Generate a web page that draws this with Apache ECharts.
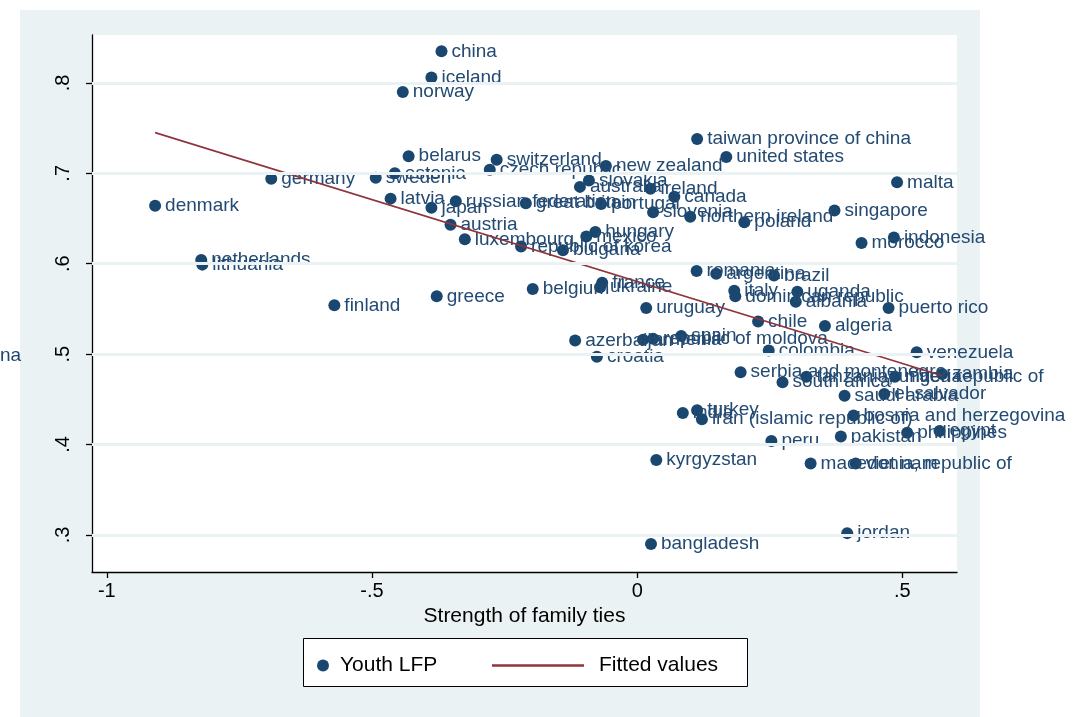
<!DOCTYPE html>
<html>
<head>
<meta charset="utf-8">
<script src="https://cdn.jsdelivr.net/npm/echarts@6/dist/echarts.min.js"></script>
<style>
html,body{margin:0;padding:0;background:#ffffff;}
#chart{width:1087px;height:717px;}
</style>
</head>
<body>
<div id="chart"></div>
<script>
// ---- data ----
const countries = [
 "china","iceland","norway","taiwan province of china","belarus","switzerland","united states","new zealand",
 "czech republic","estonia","sweden","germany","malta","slovakia","australia","ireland","canada","latvia",
 "russian federation","great britain","portugal","denmark","japan","singapore","slovenia","northern ireland",
 "poland","austria","hungary","mexico","indonesia","luxembourg","morocco","republic of korea","bulgaria",
 "netherlands","lithuania","romania","argentina","brazil","france","ukraine","belgium","italy","uganda",
 "dominican republic","greece","albania","finland","uruguay","puerto rico","chile","algeria","spain",
 "republic of moldova","armenia","azerbaijan","colombia","venezuela","croatia","serbia and montenegro",
 "zambia","tanzania, united republic of","nigeria","south africa","el salvador","saudi arabia","turkey",
 "india","bosnia and herzegovina","iran (islamic republic of)","egypt","philippines","pakistan","peru",
 "kyrgyzstan","macedonia, republic of","viet nam","jordan","bangladesh"
];
const familyTies = [
 -0.369,-0.388,-0.442,0.113,-0.431,-0.265,0.168,-0.059,
 -0.278,-0.457,-0.493,-0.690,0.490,-0.091,-0.108,0.025,0.070,-0.465,
 -0.342,-0.210,-0.068,-0.909,-0.388,0.372,0.030,0.100,
 0.202,-0.352,-0.079,-0.096,0.484,-0.325,0.423,-0.219,-0.140,
 -0.822,-0.820,0.112,0.149,0.258,-0.066,-0.070,-0.197,0.183,0.302,
 0.185,-0.378,0.299,-0.571,0.017,0.474,0.228,0.354,0.083,
 0.030,0.011,-0.117,0.248,0.527,-0.076,0.195,
 0.575,0.319,0.486,0.274,0.466,0.391,0.113,
 0.086,0.408,0.122,0.570,0.509,0.384,0.253,
 0.036,0.327,0.412,0.396,0.026
];
const youthLFP = [
 0.835,0.806,0.790,0.738,0.719,0.715,0.718,0.708,
 0.704,0.700,0.695,0.694,0.690,0.692,0.685,0.683,0.674,0.672,
 0.669,0.667,0.666,0.664,0.662,0.659,0.657,0.652,
 0.646,0.643,0.635,0.630,0.629,0.627,0.623,0.619,0.615,
 0.604,0.599,0.592,0.589,0.587,0.579,0.574,0.572,0.570,0.569,
 0.564,0.564,0.558,0.554,0.551,0.551,0.536,0.531,0.520,
 0.517,0.516,0.515,0.504,0.502,0.497,0.480,
 0.478,0.475,0.475,0.469,0.456,0.454,0.438,
 0.435,0.432,0.428,0.415,0.413,0.409,0.404,
 0.383,0.379,0.379,0.302,0.290
];
const fitX = [-0.909, 0.575];
const fitY = [0.745, 0.476];
const xTicks = [-1, -0.5, 0, 0.5];
const yTicks = [0.3, 0.4, 0.5, 0.6, 0.7, 0.8];

// ---- build ----
const scatterData = countries.map((c, i) => [familyTies[i], youthLFP[i], c]);
const fitData = fitX.map((x, i) => [x, fitY[i]]);
const stataFmt = v => {
  let s = String(Math.round(v * 100) / 100);
  return s.replace(/^0\./, '.').replace(/^-0\./, '-.');
};
const FONT = 'Liberation Sans, Arial, Helvetica, sans-serif';
const BG = '#eaf2f3';

const chart = echarts.init(document.getElementById('chart'), null, {renderer: 'canvas'});
chart.setOption({
  backgroundColor: '#ffffff',
  animation: false,
  textStyle: {fontFamily: FONT},
  graphic: [
    {type: 'rect', z: -10, shape: {x: 20, y: 10, width: 960, height: 707}, style: {fill: BG}},
    {type: 'text', z: 5, left: 0, top: 346, style: {text: 'na', fill: '#1a476f', font: '19px ' + FONT}},
    {type: 'rect', z: 1, shape: {x: 303.5, y: 638.5, width: 444, height: 48}, style: {fill: '#ffffff', stroke: '#000000', lineWidth: 1}}
  ],
  grid: {left: 92, right: 130, top: 35, bottom: 145, show: true, backgroundColor: '#ffffff', borderWidth: 0},
  xAxis: {
    type: 'value', min: -1.028, max: 0.603,
    name: 'Strength of family ties', nameLocation: 'middle', nameGap: 33,
    nameTextStyle: {fontSize: 21, color: '#000', fontFamily: FONT},
    axisLine: {show: true, onZero: false, lineStyle: {color: '#000', width: 1.3}},
    axisTick: {show: true, length: 6, customValues: xTicks, lineStyle: {color: '#000', width: 1.3}},
    axisLabel: {customValues: xTicks, formatter: stataFmt, fontSize: 20, color: '#000', margin: 9, fontFamily: FONT},
    splitLine: {show: false}
  },
  yAxis: {
    type: 'value', min: 0.259, max: 0.853,
    axisLine: {show: true, onZero: false, lineStyle: {color: '#000', width: 1.3}},
    axisTick: {show: true, length: 6, customValues: yTicks, lineStyle: {color: '#000', width: 1.3}},
    axisLabel: {customValues: yTicks, formatter: stataFmt, fontSize: 20, color: '#000', rotate: 90, margin: 19, fontFamily: FONT},
    splitLine: {show: false}
  },
  legend: [
    {data: ['Youth LFP'], left: 312, top: 650, itemWidth: 12, itemHeight: 12, icon: 'circle', z: 5,
     itemStyle: {opacity: 1},
     textStyle: {fontSize: 21, color: '#000', fontFamily: FONT, padding: [0, 0, 0, 6]}},
    {data: ['Fitted values'], left: 487, top: 650, itemWidth: 92, itemHeight: 2.5, icon: 'rect', z: 5,
     textStyle: {fontSize: 21, color: '#000', fontFamily: FONT, padding: [0, 0, 0, 10]}}
  ],
  series: [
    {
      name: 'grid', type: 'line', data: [], z: 1, silent: true,
      markLine: {
        silent: true, symbol: 'none', label: {show: false},
        lineStyle: {color: BG, width: 3, type: 'solid'},
        data: yTicks.map(v => ({yAxis: v}))
      }
    },
    {
      name: 'Youth LFP', type: 'scatter', data: scatterData, z: 3,
      symbol: 'circle', symbolSize: 12,
      itemStyle: {color: '#1a476f', opacity: 1},
      label: {
        show: true, position: 'right', distance: 4, offset: [0, 2],
        formatter: p => p.data[2],
        fontSize: 19, color: '#234a72', fontFamily: FONT
      },
      labelLayout: {hideOverlap: false}
    },
    {
      name: 'Fitted values', type: 'line', data: fitData, z: 4,
      symbol: 'none', showSymbol: false,
      lineStyle: {color: '#90353b', width: 1.6},
      itemStyle: {color: '#90353b'}
    }
  ]
});
</script>
</body>
</html>
